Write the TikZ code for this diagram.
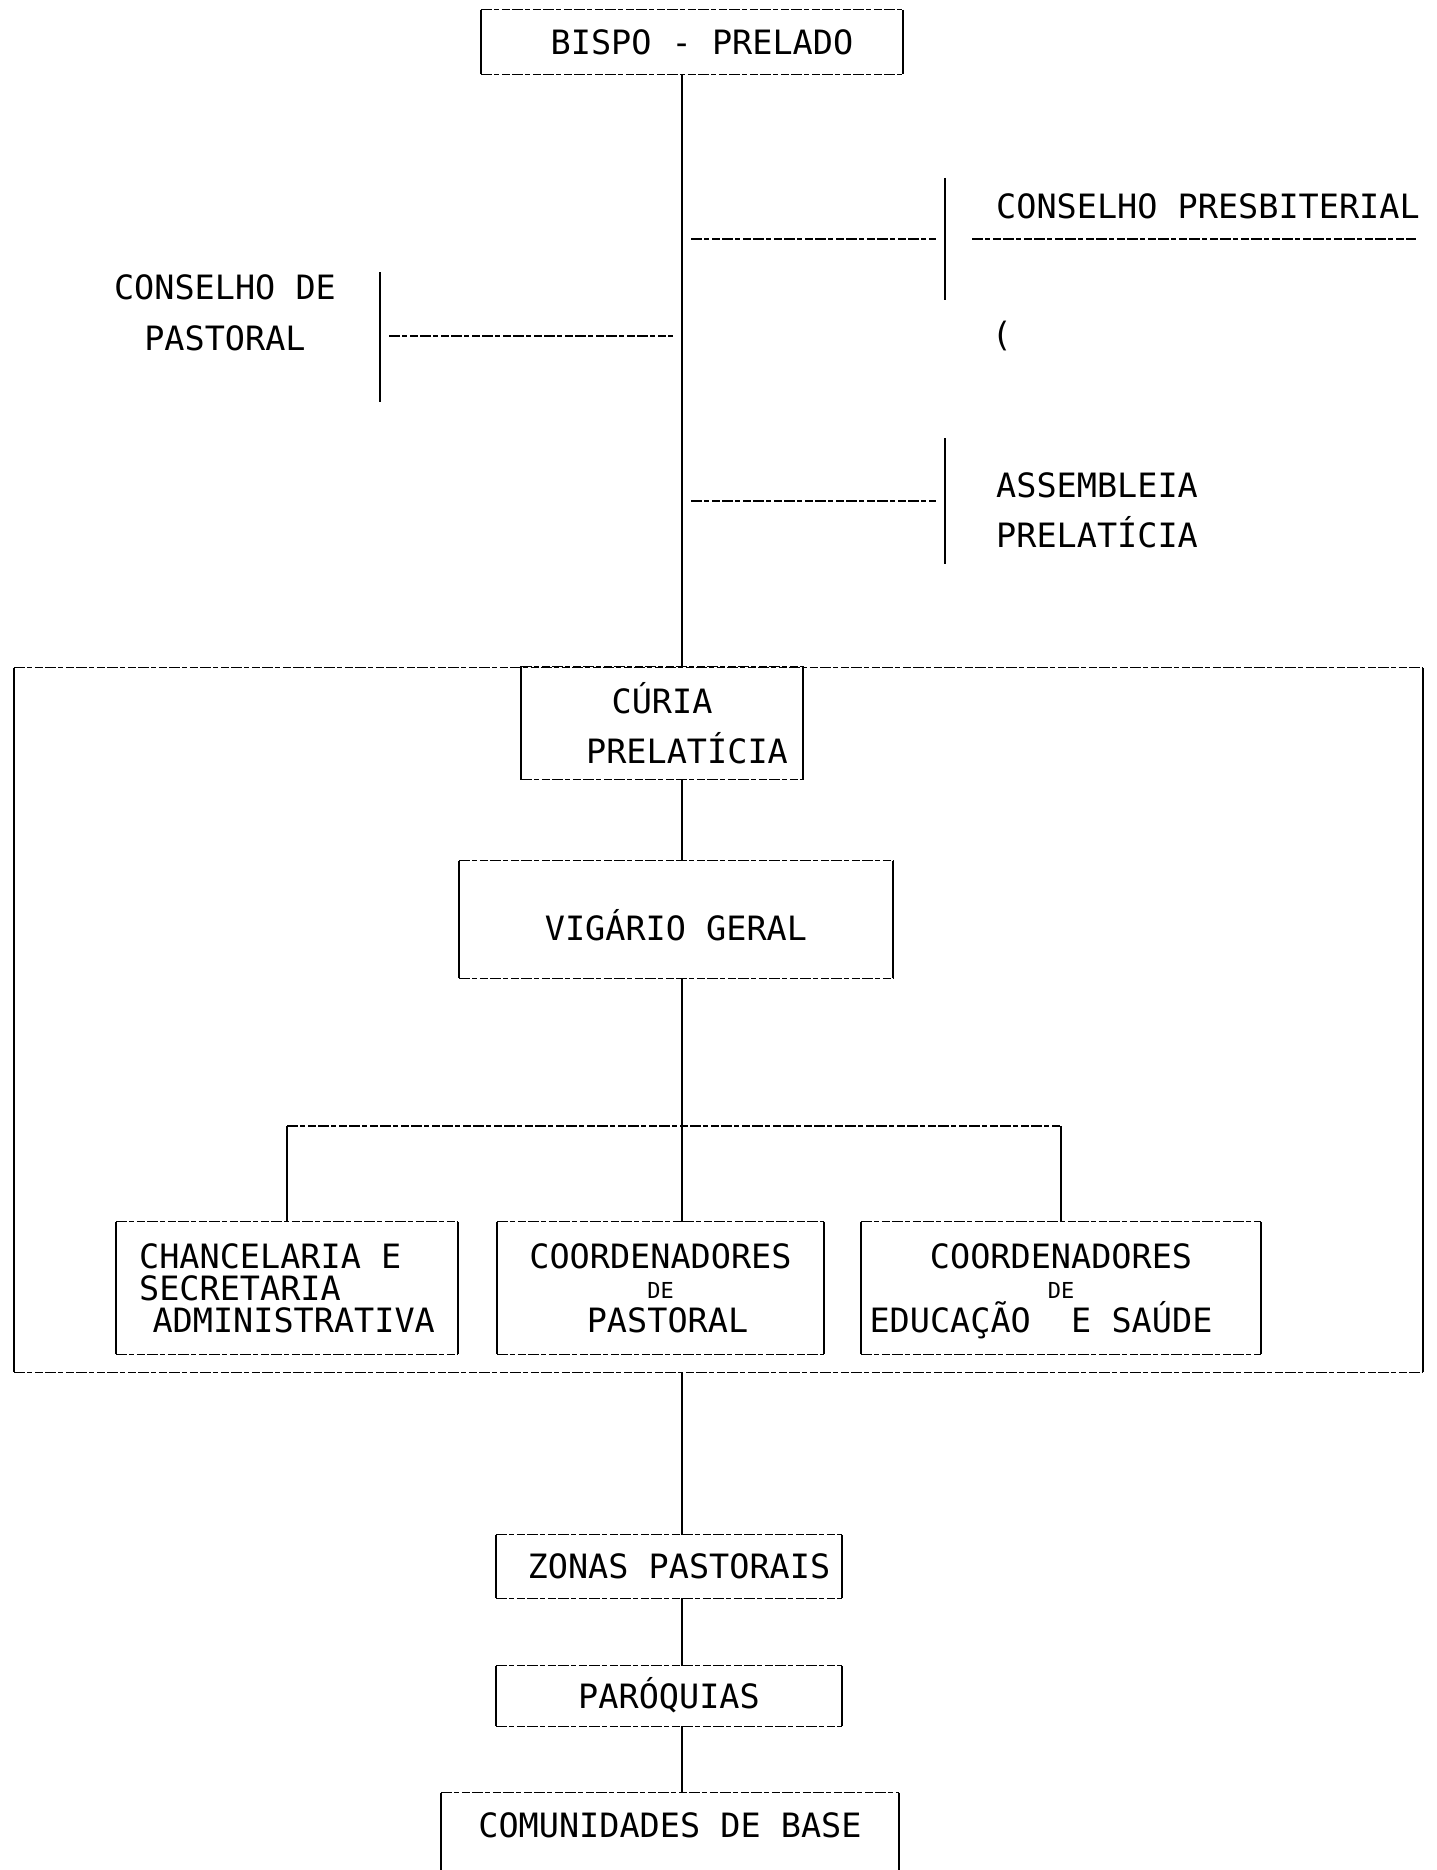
\documentclass[tikz,border=0pt]{standalone}
\usepackage{fontspec}
\setmainfont{DejaVu Sans Mono}
\usetikzlibrary{positioning}

% lados cheios, tampas tracejadas
\newcommand{\moldura}[1]{%
  \draw[fio] (#1.north west) -- (#1.south west) (#1.north east) -- (#1.south east);
  \draw[traco] (#1.north west) -- (#1.north east) (#1.south west) -- (#1.south east);}

\begin{document}
\begin{tikzpicture}[x=1pt, y=1pt,
    every node/.style={font=\fontsize{33.5}{50}\selectfont, inner sep=0pt},
    linha/.style={text height=24.4pt, text depth=0pt},
    fio/.style={line width=1.6pt},
    traco/.style={line width=1.3pt, dash pattern=on 11pt off 2pt on 5pt off 3pt on 8pt off 2pt},
    ramo/.style={traco, shorten <=9pt, shorten >=9pt}]
    \useasboundingbox (0,0) rectangle (1436,-1870);
    \clip (0,0) rectangle (1436,-1870);
    \coordinate (eixo) at (682,0);

    % Topo
    \node[linha, minimum width=422pt, minimum height=64pt] (bispo) at (692,-42) {\hspace*{20pt}BISPO - PRELADO};
    \node[linha, anchor=west] (presb) at (996,-206) {CONSELHO PRESBITERIAL};
    \node (parentese) at (1002,-336) {(};
    \node[anchor=west, align=left] (assemb) at (996,-510) {ASSEMBLEIA\\PRELATÍCIA};
    \node[align=center, font=\fontsize{33.5}{51}\selectfont] (pastoral) at (225,-312.5) {CONSELHO DE\\PASTORAL};

    % Curia
    \node[minimum width=1409pt, minimum height=704pt] (quadro) at (718.5,-1020) {};
    \node[align=center, minimum width=282pt, minimum height=113pt] (curia) at (662,-723) {CÚRIA\\\hspace*{50pt}PRELATÍCIA};
    \node[minimum width=434pt, minimum height=117pt, text height=42pt, text depth=0pt] (vigario) at (676,-919.5) {VIGÁRIO GERAL};
    \node[align=left, minimum width=342pt, minimum height=132pt, font=\fontsize{33.5}{32}\selectfont] (chanc) at (287,-1288) {CHANCELARIA E\\SECRETARIA\\\hspace*{0.4em}ADMINISTRATIVA};
    \node[align=center, minimum width=327pt, minimum height=132pt, font=\fontsize{33.5}{30}\selectfont] (coordpast) at (660.5,-1288) {COORDENADORES\\{\fontsize{22}{22}\selectfont DE}\\[4.2pt]\hspace*{14pt}PASTORAL};
    \node[align=center, minimum width=400pt, minimum height=132pt, font=\fontsize{33.5}{30}\selectfont] (coordedu) at (1061,-1288) {COORDENADORES\\{\fontsize{22}{22}\selectfont DE}\hspace*{20pt}\\[2pt]\raisebox{0pt}[\height][0pt]{EDUCAÇÃO~~E SAÚDE}\hspace*{40pt}};

    % Base
    \node[linha, minimum width=346pt, minimum height=63pt] (zonas) at (669,-1566.5) {\hspace*{20pt}ZONAS PASTORAIS};
    \node[linha, minimum width=346pt, minimum height=60pt, below of=zonas, node distance=129.5pt] (paroquias) {PARÓQUIAS};
    \node[linha, minimum width=458pt, minimum height=64pt] (comunid) at (670,-1825) {COMUNIDADES DE BASE};

    % Molduras
    \moldura{bispo}
    \moldura{quadro}
    \moldura{curia}
    \moldura{vigario}
    \moldura{chanc}
    \moldura{coordpast}
    \moldura{coordedu}
    \moldura{zonas}
    \moldura{paroquias}
    \draw[traco] (comunid.north west) -- (comunid.north east);
    \draw[fio] (comunid.north west) -- ++(0,-90) (comunid.north east) -- ++(0,-90);
    \draw[fio] (945,-178) -- (945,-300);
    \draw[fio] (945,-438) -- (945,-564);
    \draw[fio] (380,-272) -- (380,-402);
    \draw[traco] (972,-239) -- (1416,-239);

    % Ligacoes
    \coordinate (rpresb) at (945,-239);
    \coordinate (rassemb) at (945,-501);
    \coordinate (rpast) at (380,-336);
    \coordinate (barra) at (682,-1126);
    \draw[fio] (bispo.south -| eixo) -- (curia.north -| eixo);
    \draw[ramo] (eixo |- rpresb) -- (rpresb);
    \draw[ramo] (eixo |- rassemb) -- (rassemb);
    \draw[ramo] (rpast) -- (eixo |- rpast);
    \draw[fio] (curia.south -| eixo) -- (vigario.north -| eixo);
    \draw[fio] (vigario.south -| eixo) -- (barra);
    \draw[traco] (chanc.north |- barra) -- (coordedu.north |- barra);
    \draw[fio] (chanc.north |- barra) -- (chanc.north);
    \draw[fio] (barra) -- (eixo |- coordpast.north);
    \draw[fio] (coordedu.north |- barra) -- (coordedu.north);
    \draw[fio] (quadro.south -| eixo) -- (zonas.north -| eixo);
    \draw[fio] (zonas.south -| eixo) -- (paroquias.north -| eixo);
    \draw[fio] (paroquias.south -| eixo) -- (comunid.north -| eixo);
\end{tikzpicture}
\end{document}
